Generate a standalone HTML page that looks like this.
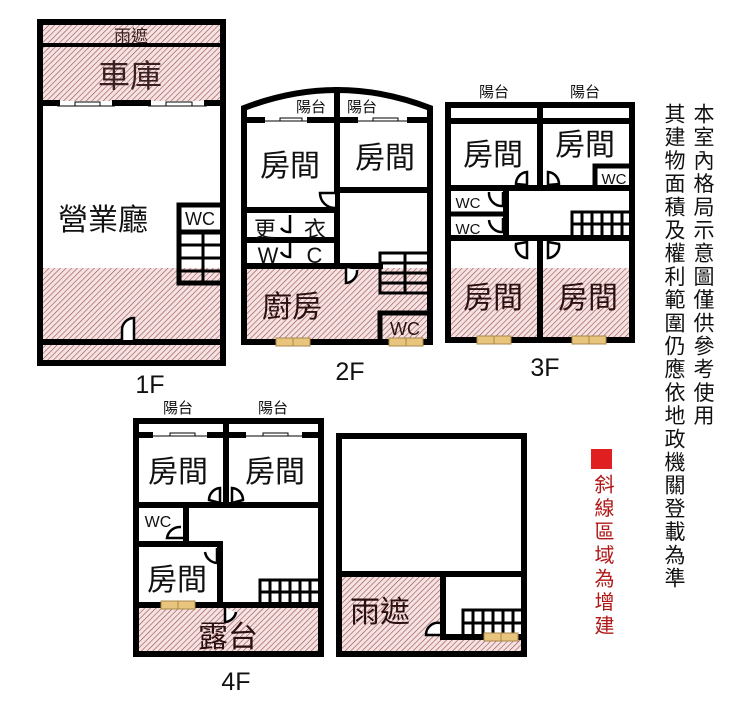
<!DOCTYPE html>
<html><head><meta charset="utf-8"><style>
body{margin:0;background:#fff;}
svg{display:block}
text{font-family:"Liberation Sans","Noto Sans CJK TC",sans-serif;}
.v{position:absolute;font-family:"Liberation Sans","Noto Sans CJK TC",sans-serif;writing-mode:vertical-rl;font-size:21px;line-height:21px;letter-spacing:2.2px;color:#111;}
</style></head><body>
<div style="position:relative;width:740px;height:707px;overflow:hidden">
<svg width="740" height="707" viewBox="0 0 740 707" xmlns="http://www.w3.org/2000/svg">
<defs>
<pattern id="h" width="4" height="4" patternUnits="userSpaceOnUse" patternTransform="rotate(45)">
<rect width="4" height="4" fill="#f5e3e3"/><line x1="0" y1="0" x2="0" y2="4" stroke="#9a4a4a" stroke-width="1.2"/>
</pattern>
<g id="win"><rect x="0" y="-4" width="34" height="8" fill="#e8c47c" stroke="#a8874a" stroke-width="1"/><line x1="17" y1="-4" x2="17" y2="4" stroke="#a8874a"/></g>
</defs>

<rect x="43" y="25" width="177" height="76" fill="url(#h)"/>
<rect x="43" y="268" width="177" height="72" fill="url(#h)"/>
<rect x="43" y="345" width="177" height="15" fill="url(#h)"/>
<rect x="247" y="268" width="180" height="71" fill="url(#h)"/>
<rect x="451" y="268" width="178" height="70" fill="url(#h)"/>
<rect x="139" y="607" width="179" height="44" fill="url(#h)"/>
<rect x="342" y="577" width="179" height="74" fill="url(#h)"/>
<rect x="446" y="577" width="75" height="58" fill="#fff"/>

<g stroke="#000" stroke-width="6" fill="none" stroke-linecap="square">
<rect x="40" y="22" width="183" height="341"/>
<line x1="40" y1="45" x2="223" y2="45" stroke-width="4"/>
<line x1="40" y1="103" x2="57" y2="103"/><line x1="115" y1="103" x2="148" y2="103"/><line x1="207" y1="103" x2="223" y2="103"/>
<line x1="40" y1="342" x2="223" y2="342"/>
<rect x="179" y="205" width="44" height="27" stroke-width="5"/>
<line x1="179" y1="232" x2="179" y2="283" stroke-width="5"/>
<line x1="179" y1="283" x2="223" y2="283" stroke-width="5"/>
<!-- 2F -->
<path d="M244 108 L244 342 L430 342 L430 108 Q337 72 244 108 Z"/>
<line x1="244" y1="120" x2="262" y2="120"/><line x1="310" y1="120" x2="355" y2="120"/><line x1="410" y1="120" x2="430" y2="120"/>
<line x1="337" y1="90" x2="337" y2="266"/>
<line x1="244" y1="210" x2="337" y2="210"/>
<line x1="337" y1="190" x2="430" y2="190"/>
<line x1="244" y1="240" x2="337" y2="240"/>
<line x1="244" y1="266" x2="380" y2="266"/>
<rect x="380" y="313" width="50" height="29" stroke-width="5"/>
<!-- 3F -->
<rect x="448" y="105" width="184" height="235"/>
<line x1="448" y1="121" x2="632" y2="121"/>
<line x1="540" y1="105" x2="540" y2="188"/>
<line x1="540" y1="238" x2="540" y2="340"/>
<line x1="448" y1="188" x2="632" y2="188"/>
<line x1="448" y1="238" x2="632" y2="238"/>
<line x1="506" y1="188" x2="506" y2="238"/>
<line x1="448" y1="214" x2="506" y2="214" stroke-width="5"/>
<line x1="595" y1="166" x2="595" y2="188" stroke-width="5"/><line x1="595" y1="166" x2="632" y2="166" stroke-width="5"/>
<!-- 4F -->
<rect x="136" y="421" width="185" height="233"/>
<line x1="136" y1="435" x2="150" y2="435"/><line x1="210" y1="435" x2="243" y2="435"/><line x1="305" y1="435" x2="321" y2="435"/>
<line x1="226" y1="421" x2="226" y2="505"/>
<line x1="136" y1="505" x2="321" y2="505"/>
<line x1="186" y1="505" x2="186" y2="543"/>
<line x1="136" y1="544" x2="220" y2="544"/>
<line x1="220" y1="544" x2="220" y2="604"/>
<line x1="136" y1="605" x2="321" y2="605"/>
<!-- roof -->
<rect x="339" y="436" width="185" height="218"/>
<line x1="339" y1="574" x2="524" y2="574"/>
<line x1="443" y1="574" x2="443" y2="637"/>
<line x1="443" y1="637" x2="524" y2="637"/>
</g>

<g stroke="#000" stroke-width="3" fill="none">
<line x1="203" y1="232" x2="203" y2="283"/><line x1="179" y1="245" x2="223" y2="245"/><line x1="179" y1="258" x2="223" y2="258"/><line x1="179" y1="271" x2="223" y2="271"/>
<rect x="380" y="253" width="50" height="40"/><line x1="405" y1="253" x2="405" y2="293"/><line x1="380" y1="263" x2="430" y2="263"/><line x1="380" y1="273" x2="430" y2="273"/><line x1="380" y1="283" x2="430" y2="283"/>
<rect x="572" y="212" width="60" height="25"/><line x1="572" y1="224" x2="632" y2="224"/>
<line x1="582" y1="212" x2="582" y2="237"/><line x1="592" y1="212" x2="592" y2="237"/><line x1="602" y1="212" x2="602" y2="237"/><line x1="612" y1="212" x2="612" y2="237"/><line x1="622" y1="212" x2="622" y2="237"/>
<rect x="260" y="580" width="60" height="24"/><line x1="260" y1="592" x2="320" y2="592"/>
<line x1="270" y1="580" x2="270" y2="604"/><line x1="280" y1="580" x2="280" y2="604"/><line x1="290" y1="580" x2="290" y2="604"/><line x1="300" y1="580" x2="300" y2="604"/><line x1="310" y1="580" x2="310" y2="604"/>
<rect x="463" y="610" width="60" height="26"/><line x1="463" y1="623" x2="523" y2="623"/>
<line x1="473" y1="610" x2="473" y2="636"/><line x1="483" y1="610" x2="483" y2="636"/><line x1="493" y1="610" x2="493" y2="636"/><line x1="503" y1="610" x2="503" y2="636"/><line x1="513" y1="610" x2="513" y2="636"/>
</g>

<g stroke="#000" stroke-width="1" fill="#fff">
<line x1="57" y1="106" x2="115" y2="106"/><rect x="75" y="102" width="25" height="4"/>
<line x1="148" y1="106" x2="207" y2="106"/><rect x="166" y="102" width="26" height="4"/>
<line x1="262" y1="121" x2="310" y2="121"/><rect x="280" y="118" width="22" height="3"/>
<line x1="355" y1="121" x2="410" y2="121"/><rect x="373" y="118" width="25" height="3"/>
<line x1="150" y1="436" x2="210" y2="436"/><rect x="170" y="433" width="25" height="3"/>
<line x1="243" y1="436" x2="305" y2="436"/><rect x="263" y="433" width="25" height="3"/>
</g>

<g stroke="#000" stroke-width="2.5" fill="#fff">
<path d="M122 340 L122 330 A12 12 0 0 1 134 318 L134 340"/>
<path d="M335 193 L320 193 A15 15 0 0 0 335 208"/>
<path d="M290 215 L290 232 A10 10 0 0 1 281 228"/>
<path d="M290 243 L290 257 A10 10 0 0 1 281 252"/>
<path d="M346 268 L346 283 A12 12 0 0 0 357 270"/>
<path d="M527 185 L527 172 A12 12 0 0 0 516 184 Z"/><path d="M548 185 L548 172 A12 12 0 0 1 559 184 Z"/>
<path d="M503 192 L503 206 A13 13 0 0 1 489 192"/>
<path d="M503 218 L503 232 A13 13 0 0 1 489 220"/>
<path d="M527 242 L527 258 A12 12 0 0 1 516 244 Z"/><path d="M548 242 L548 258 A12 12 0 0 0 559 244 Z"/>
<path d="M220 503 L220 488 A12 12 0 0 0 209 500 Z"/><path d="M232 503 L232 488 A12 12 0 0 1 243 500 Z"/>
<path d="M183 538 L167 538 A13 13 0 0 1 181 527"/>
<path d="M217 548 L217 563 A13 13 0 0 1 205 552"/>
<path d="M225 608 L225 622 A12 12 0 0 0 236 612"/>
<path d="M440 635 L426 635 A12 12 0 0 1 440 623"/>
</g>

<use href="#win" x="276" y="342"/><use href="#win" x="389" y="342"/>
<use href="#win" x="477" y="340"/><use href="#win" x="572" y="340"/>
<use href="#win" x="161" y="605"/><use href="#win" x="484" y="637"/>

<g fill="#111" text-anchor="middle">
<text x="131" y="42" font-size="17" fill="#3a2020">雨遮</text>
<text x="130" y="87" font-size="32" fill="#3a2020">車庫</text>
<text x="103" y="230" font-size="30">營業廳</text>
<text x="200" y="225" font-size="18">WC</text>
<text x="150" y="393" font-size="25">1F</text>
<text x="311" y="112" font-size="15">陽台</text>
<text x="362" y="112" font-size="15">陽台</text>
<text x="290" y="176" font-size="30">房間</text>
<text x="385" y="168" font-size="30">房間</text>
<text x="290" y="237" font-size="22">更 　衣</text>
<text x="290" y="263" font-size="22">W 　C</text>
<text x="292" y="317" font-size="30" fill="#2a1010">廚房</text>
<text x="405" y="335" font-size="18" fill="#2a1010">WC</text>
<text x="350" y="380" font-size="25">2F</text>
<text x="494" y="97" font-size="15">陽台</text>
<text x="585" y="97" font-size="15">陽台</text>
<text x="493" y="165" font-size="30">房間</text>
<text x="585" y="155" font-size="30">房間</text>
<text x="614" y="184" font-size="15">WC</text>
<text x="468" y="208" font-size="15">WC</text>
<text x="468" y="234" font-size="15">WC</text>
<text x="493" y="308" font-size="30" fill="#2a1010">房間</text>
<text x="588" y="308" font-size="30" fill="#2a1010">房間</text>
<text x="545" y="376" font-size="25">3F</text>
<text x="178" y="413" font-size="15">陽台</text>
<text x="273" y="413" font-size="15">陽台</text>
<text x="178" y="482" font-size="30">房間</text>
<text x="275" y="482" font-size="30">房間</text>
<text x="158" y="527" font-size="16">WC</text>
<text x="177" y="590" font-size="30">房間</text>
<text x="228" y="647" font-size="30" fill="#2a1010">露台</text>
<text x="380" y="622" font-size="30" fill="#2a1010">雨遮</text>
<text x="236" y="690" font-size="25">4F</text>
</g>
<rect x="591" y="449" width="21" height="20" fill="#e02020"/>
</svg>
<div class="v" style="left:692px;top:103px">本室內格局示意圖僅供參考使用</div>
<div class="v" style="left:663px;top:103px">其建物面積及權利範圍仍應依地政機關登載為準</div>
<div class="v" style="left:591px;top:474px;color:#b01818;font-size:20px;letter-spacing:3.5px">斜線區域為增建</div>
</div>
</body></html>
